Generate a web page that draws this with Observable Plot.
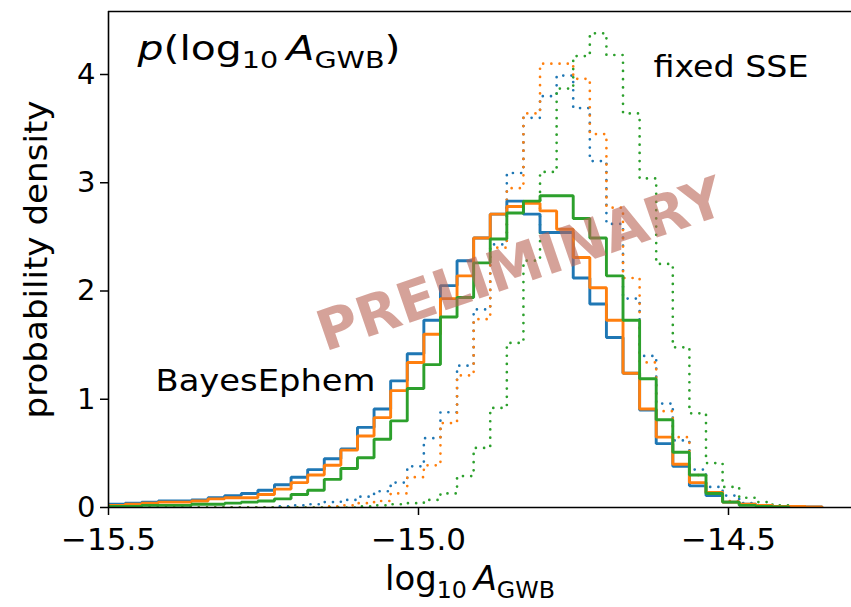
<!DOCTYPE html>
<html><head><meta charset="utf-8">
<script src="https://cdn.jsdelivr.net/npm/d3@7"></script>
<script src="https://cdn.jsdelivr.net/npm/@observablehq/plot@0.6"></script>
<style>
html,body{margin:0;padding:0;background:#fff;}
#chart svg{display:block;font-family:"DejaVu Sans",sans-serif;}
</style>
</head><body><div id="chart"></div>
<script>
// histogram bins (log10 A_GWB)
const binStart = -15.5;
const binWidth = 0.02677;

// BayesEphem (solid)
const bayesBlue = [0.03,0.04,0.05,0.06,0.06,0.07,0.09,0.11,0.13,0.16,0.21,0.28,0.35,0.45,0.54,0.74,0.91,1.17,1.42,1.73,2.05,2.28,2.49,2.71,2.83,2.71,2.54,2.54,2.12,1.88,1.57,1.24,0.90,0.59,0.38,0.20,0.11,0.05,0.03,0.02,0.01,0.01,0.005];
const bayesOrange = [0.02,0.03,0.04,0.05,0.05,0.06,0.08,0.09,0.09,0.12,0.17,0.23,0.30,0.39,0.53,0.66,0.83,1.08,1.34,1.60,1.93,2.14,2.49,2.71,2.78,2.81,2.74,2.57,2.31,2.03,1.73,1.24,0.91,0.65,0.40,0.23,0.14,0.05,0.03,0.02,0.01,0.01,0.005];
const bayesGreen = [0.01,0.01,0.02,0.02,0.02,0.03,0.03,0.04,0.05,0.06,0.08,0.12,0.16,0.26,0.36,0.46,0.63,0.80,1.10,1.32,1.76,1.94,2.26,2.48,2.72,2.83,2.88,2.88,2.67,2.49,2.14,1.73,1.19,0.81,0.51,0.30,0.13,0.05,0.02,0.01,0.005];

// fixed SSE (dotted)
const fixedBlue = [0,0,0,0,0,0,0,0,0,0,0.01,0.02,0.03,0.05,0.07,0.10,0.15,0.23,0.38,0.64,0.88,1.31,1.83,2.43,3.09,3.60,3.80,3.99,3.69,3.20,2.62,1.93,1.40,0.96,0.62,0.35,0.19,0.11,0.04,0.02,0.01];
const fixedOrange = [0,0,0,0,0,0,0,0,0,0,0,0,0,0.01,0.02,0.04,0.06,0.13,0.28,0.39,0.78,1.22,1.74,2.40,2.95,3.64,4.10,4.10,3.96,3.45,2.77,2.12,1.34,0.89,0.65,0.30,0.14,0.06,0.03,0.01];
const fixedGreen = [0,0,0,0,0,0,0,0,0,0,0,0,0,0,0,0.01,0.02,0.03,0.04,0.07,0.13,0.29,0.55,0.92,1.52,2.28,3.10,3.87,4.17,4.38,4.18,3.64,3.04,2.25,1.48,0.87,0.41,0.19,0.09,0.05,0.02,0.01];

const xTicks = [-15.5, -15.0, -14.5];
const yTicks = [0, 1, 2, 3, 4];
const colors = {blue: "#1f77b4", orange: "#ff7f0e", green: "#2ca02c"};

function outline(vals) {
  const pts = [{x: binStart, y: 0}];
  vals.forEach((v, i) => pts.push({x: binStart + i * binWidth, y: v}));
  pts.push({x: binStart + vals.length * binWidth, y: 0});
  return pts;
}

const solid = (vals, c) => Plot.line(outline(vals), {x: "x", y: "y", curve: "step-after", stroke: c, strokeWidth: 2.9, strokeLinecap: "butt", strokeLinejoin: "miter", clip: true});
const dotted = (vals, c) => Plot.line(outline(vals), {x: "x", y: "y", curve: "step-after", stroke: c, strokeWidth: 2.7, strokeLinecap: "round", strokeDasharray: "0.01,8.2", clip: true});

const plot = Plot.plot({
  width: 851, height: 607,
  marginLeft: 108, marginRight: 0, marginTop: 11, marginBottom: 100,
  x: {domain: [-15.5, -14.3016]},
  y: {domain: [0, 4.582]},
  style: {fontFamily: "DejaVu Sans", color: "#000", background: "#fff"},
  marks: [
    dotted(fixedBlue, colors.blue),
    dotted(fixedOrange, colors.orange),
    dotted(fixedGreen, colors.green),
    solid(bayesBlue, colors.blue),
    solid(bayesOrange, colors.orange),
    solid(bayesGreen, colors.green),
    Plot.text(["PRELIMINARY"], {x: [-14.835], y: [2.236], text: d => d, rotate: -19, fontSize: 56, fontWeight: "bold", fill: "#b96455", fillOpacity: 0.6}),
    Plot.ruleX([-15.5], {stroke: "#000", strokeWidth: 1.6}),
    Plot.ruleY([0], {stroke: "#000", strokeWidth: 1.6}),
    Plot.ruleY([4.582], {stroke: "#000", strokeWidth: 1.6}),
    Plot.axisX(xTicks, {tickFormat: d3.format(".1f"), tickSize: 8, tickPadding: 12, fontSize: 31, label: null, strokeWidth: 1.5}),
    Plot.axisY(yTicks, {tickFormat: d3.format("d"), tickSize: 8, tickPadding: 5, fontSize: 29, label: null, strokeWidth: 1.5}),
    Plot.text(["probability density"], {frameAnchor: "left", dx: -72, dy: 0, rotate: -90, textAnchor: "middle", fontSize: 32, text: d => d, className: "ylab"}),
    Plot.text(["xlabel"], {frameAnchor: "bottom", dx: -10, dy: 82, fontSize: 34, text: d => d, className: "xlab"}),
    Plot.text(["title"], {frameAnchor: "top-left", dx: 29, dy: 24, textAnchor: "start", fontSize: 34, text: d => d, className: "ttl"}),
    Plot.text(["fixed SSE"], {frameAnchor: "top-left", dx: 545, dy: 43, textAnchor: "start", fontSize: 31, text: d => d, className: "fse"}),
    Plot.text(["BayesEphem"], {frameAnchor: "top-left", dx: 47, dy: 357, textAnchor: "start", fontSize: 31, text: d => d, className: "bep"})
  ]
});

document.getElementById("chart").appendChild(plot);

function mathText(sel, parts, size) {
  const t = d3.select(sel);
  t.text("");
  let shifted = 0;
  parts.forEach(p => {
    const ts = t.append("tspan").text(p.t);
    if (p.italic) ts.attr("font-style", "italic");
    const target = p.sub ? size * 0.24 : 0;
    if (target !== shifted) { ts.attr("dy", target - shifted); shifted = target; }
    if (p.sub) ts.attr("font-size", size * 0.7);
  });
}
function stretch(sel, len) {
  const t = plot.querySelector(sel);
  if (t) { t.setAttribute("textLength", len); t.setAttribute("lengthAdjust", "spacingAndGlyphs"); }
}
mathText(plot.querySelector(".xlab text"), [{t: "log"}, {t: "10", sub: true}, {t: "\u2009"}, {t: "A", italic: true}, {t: "GWB", sub: true}], 34);
mathText(plot.querySelector(".ttl text"), [{t: "p", italic: true}, {t: "(log"}, {t: "10", sub: true}, {t: "\u2009"}, {t: "A", italic: true}, {t: "GWB", sub: true}, {t: ")"}], 34);
stretch(".ttl text", 263);
stretch(".xlab text", 170);
stretch(".fse text", 155);
stretch(".bep text", 220);
stretch(".ylab text", 318);
</script>
</body></html>
